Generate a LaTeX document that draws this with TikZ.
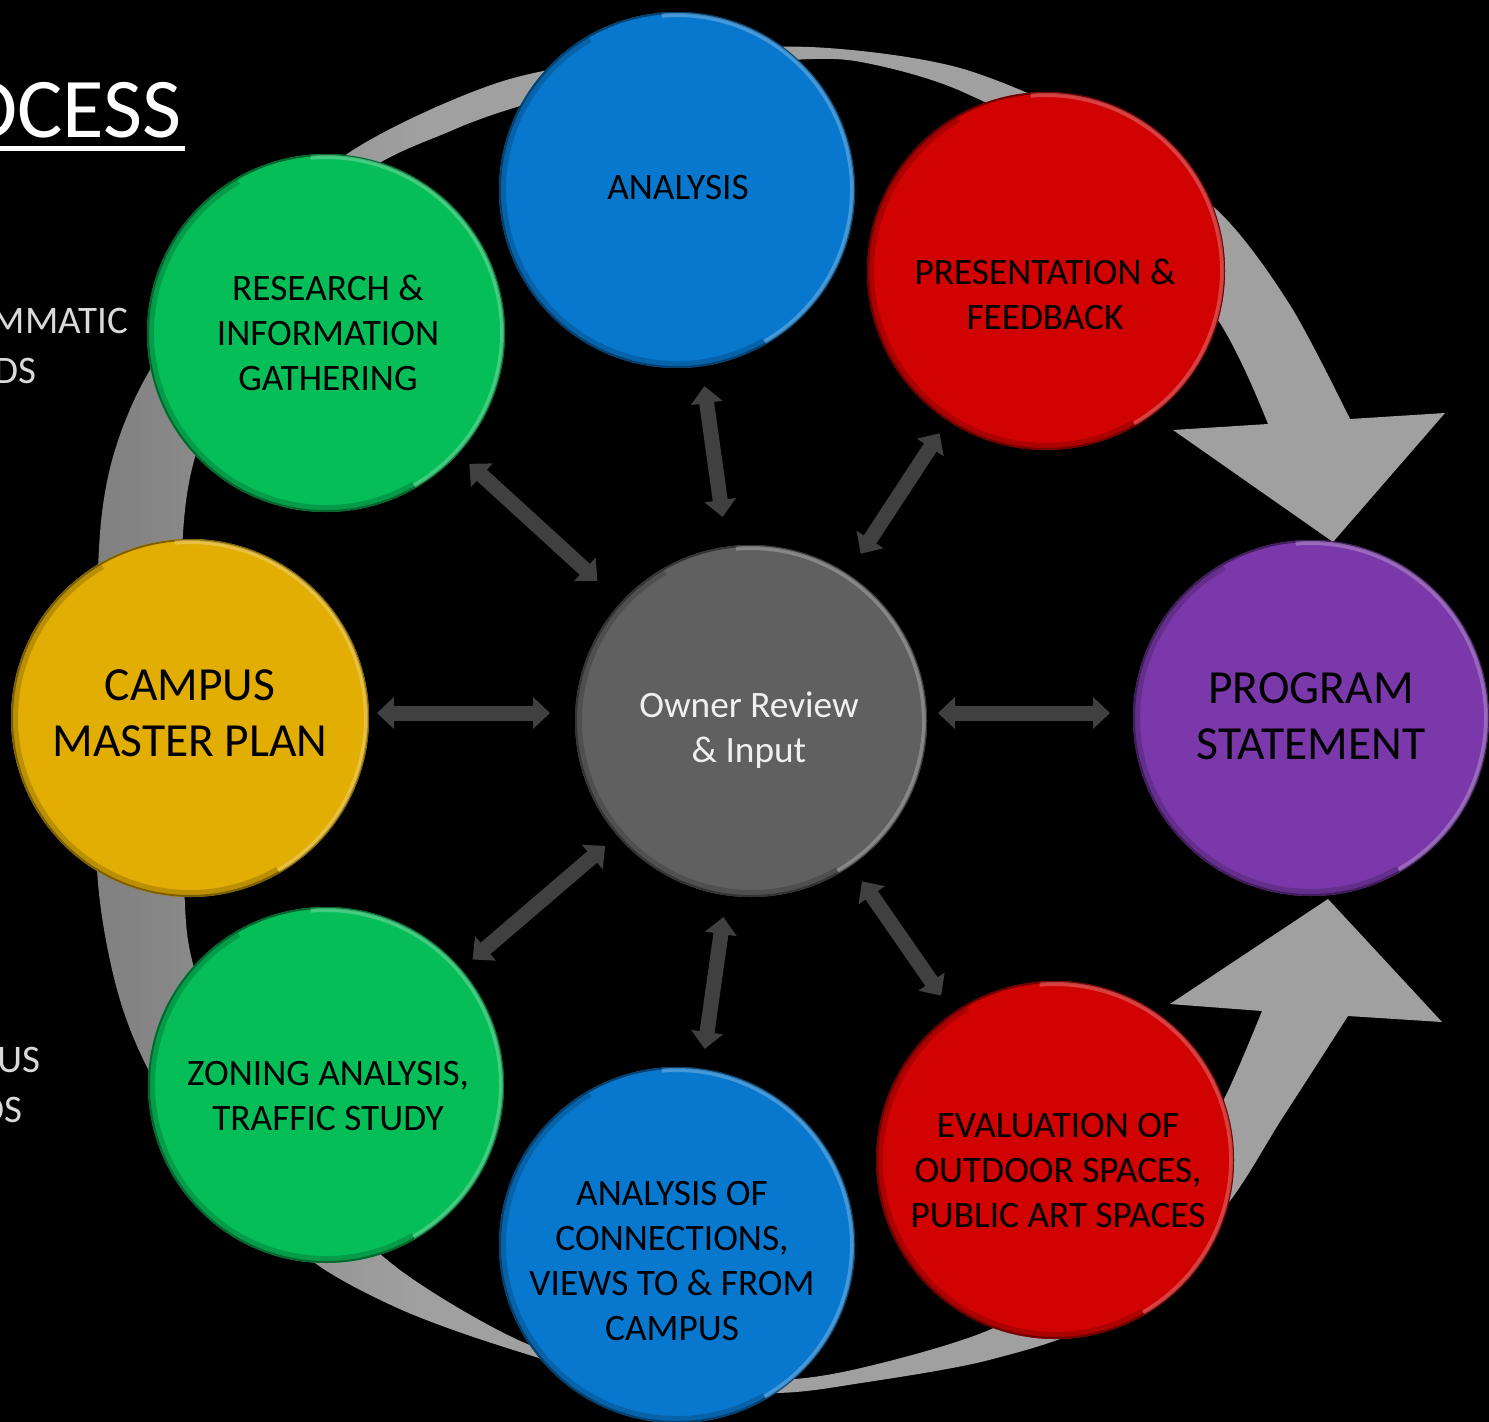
\documentclass[tikz,border=0pt]{standalone}
\usepackage{fontspec}
\setmainfont{Carlito}
\usetikzlibrary{arrows.meta}
\definecolor{bluec}{RGB}{8,120,206}
\definecolor{redc}{RGB}{208,2,2}
\definecolor{greenc}{RGB}{5,190,88}
\definecolor{yellowc}{RGB}{226,174,4}
\definecolor{purplec}{RGB}{122,56,170}
\definecolor{grayc}{RGB}{96,96,96}
\definecolor{arrowc}{RGB}{64,64,64}
\definecolor{ringdark}{RGB}{128,128,128}
\definecolor{ringlight}{RGB}{160,160,160}
\definecolor{sidetext}{RGB}{217,217,217}
\definecolor{ownertext}{RGB}{240,240,240}
\pgfdeclarehorizontalshading{ringshade}{100bp}{color(0bp)=(ringdark); color(25bp)=(ringdark); color(37bp)=(ringlight); color(100bp)=(ringlight)}
\tikzset{
  disc/.style 2 args={circle, inner sep=0pt, outer sep=0pt, minimum size=2*#2, fill=#1,
    path picture={
      \coordinate (ppc) at (path picture bounding box.center);
      \draw[#1!55!black, line width=4pt] (ppc) circle[radius=#2];
      \draw[#1!55!white, line width=4pt, opacity=.55] (ppc) ++(-60:{#2-3pt}) arc[start angle=-60, end angle=95, radius={#2-3pt}];
      \draw[#1!50!black, line width=6pt, opacity=.35] (ppc) ++(120:{#2-4pt}) arc[start angle=120, end angle=300, radius={#2-4pt}];
    }},
  lbl/.style={align=center, inner sep=0pt, text=black, font=\fontsize{37.3}{45}\selectfont},
  biglbl/.style={align=center, inner sep=0pt, text=black, font=\fontsize{47.5}{56.5}\selectfont},
  side/.style={inner sep=0pt, text=sidetext, anchor=base east, font=\fontsize{39}{50}\selectfont},
  dblarrow/.style={draw=arrowc, line width=15pt, {Triangle[width=31pt,length=17pt]}-{Triangle[width=31pt,length=17pt]}}
}
\begin{document}
\begin{tikzpicture}[x=1pt, y=-1pt]
\useasboundingbox (0,0) rectangle (1489,1422);
\fill[black] (0,0) rectangle (1489,1422);
\clip (0,0) rectangle (1489,1422);

% big gray ring with two arrowheads
\shade[shading=ringshade]
  plot[smooth] coordinates {(1350,419) (1290,305) (1217,210) (1100,128) (960,68) (810,47) (650,55) (500,82) (350,152) (230,260) (150,370) (115,450) (100,533) (95,700) (98,883) (120,1000) (160,1090) (240,1190) (315,1263) (402,1310) (504,1347) (640,1385) (774,1393) (861,1383) (989,1360) (1100,1320) (1217,1217) (1283,1117) (1348,1016)}
  -- (1442,1022) -- (1328,899) -- (1170,1004)
  -- plot[smooth] coordinates {(1262,1011) (1227,1093) (1180,1180) (1100,1265) (989,1330) (861,1368) (774,1380) (640,1372) (525,1343) (400,1270) (300,1175) (230,1070) (192,960) (184,883) (180,700) (183,533) (197,450) (240,340) (350,185) (453,130) (540,100) (650,72) (790,60) (861,62) (963,92) (1100,170) (1218,320) (1268,424)}
  -- (1173,430) -- (1333,542) -- (1445,413) -- cycle;

% side texts (cut off at the left edge, as in the slide)
\node[inner sep=0pt, text=white, anchor=base east, font=\fontsize{85}{100}\selectfont] (tocess) at (182,137) {OCESS};
\draw[white, line width=5pt] ([yshift=-11pt]tocess.base west) -- ([yshift=-11pt, xshift=3pt]tocess.base east);
\node[side] (tmmatic) at (128,333) {MMATIC};
\node[side] (tdsa) at (37,383) {DS};
\node[side] (tus) at (41,1072) {US};
\node[side] (tdsb) at (23,1122) {DS};

% discs
\node[disc={bluec}{178pt}] (analysis) at (677,190) {};
\node[disc={redc}{179pt}] (present) at (1046,271) {};
\node[disc={greenc}{179pt}] (research) at (326,333) {};
\node[disc={yellowc}{179pt}] (campus) at (190,718) {};
\node[disc={grayc}{176pt}] (owner) at (751,721) {};
\node[disc={purplec}{178pt}] (program) at (1311,718) {};
\node[disc={greenc}{178pt}] (zoning) at (326,1085) {};
\node[disc={bluec}{178pt}] (connect) at (677,1245) {};
\node[disc={redc}{179pt}] (evalu) at (1055,1160) {};

% labels
\node[lbl] (lanalysis) at (678,188) {ANALYSIS};
\node[lbl] (lpresent) at (1045,294) {PRESENTATION \&\\FEEDBACK};
\node[lbl] (lresearch) at (328,333) {RESEARCH \&\\INFORMATION\\GATHERING};
\node[biglbl] (lcampus) at (190,713) {CAMPUS\\MASTER PLAN};
\node[lbl, text=ownertext] (lowner) at (749,730) {Owner Review\\\& Input};
\node[biglbl] (lprogram) at (1311,716) {PROGRAM\\STATEMENT};
\node[lbl] (lzoning) at (328,1096) {ZONING ANALYSIS,\\TRAFFIC STUDY};
\node[lbl] (lconnect) at (672,1261) {ANALYSIS OF\\CONNECTIONS,\\VIEWS TO \& FROM\\CAMPUS};
\node[lbl] (levalu) at (1058,1171) {EVALUATION OF\\OUTDOOR SPACES,\\PUBLIC ART SPACES};

% two-way arrows
\draw[dblarrow, shorten <=30pt, shorten >=20pt] (owner) -- (analysis);
\draw[dblarrow, shorten <=24pt, shorten >=15pt] (owner) -- (present);
\draw[dblarrow, shorten <=32pt, shorten >=15pt] (owner) -- (research);
\draw[dblarrow, shorten <=25pt, shorten >=8pt] ([yshift=8pt]owner.west) -- ([yshift=8pt]owner.west -| campus.east);
\draw[dblarrow, shorten <=11pt, shorten >=23pt] ([yshift=8pt]owner.east) -- ([yshift=8pt]owner.east -| program.west);
\draw[dblarrow, shorten <=16pt, shorten >=15pt] (owner) -- (zoning);
\draw[dblarrow, shorten <=22pt, shorten >=20pt] (owner) -- (connect);
\draw[dblarrow, shorten <=19pt, shorten >=21pt] (owner) -- (evalu);
\end{tikzpicture}
\end{document}
